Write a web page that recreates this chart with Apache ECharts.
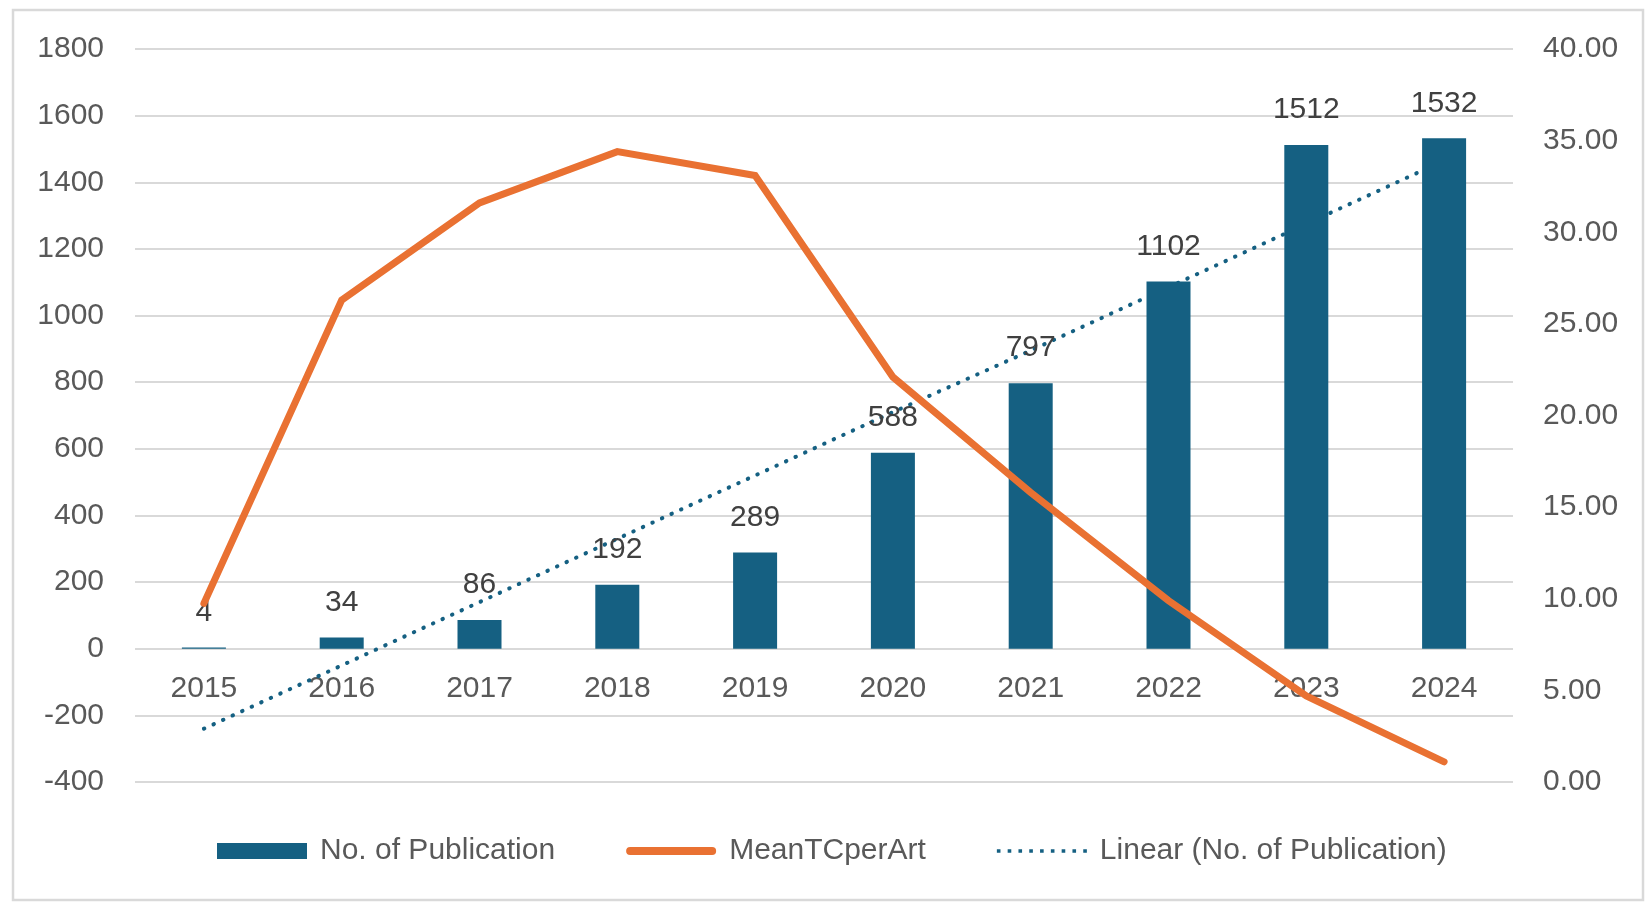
<!DOCTYPE html>
<html>
<head>
<meta charset="utf-8">
<script src="https://cdn.jsdelivr.net/npm/echarts@6/dist/echarts.min.js"></script>
<style>
  html, body { margin: 0; padding: 0; background: #fff; }
  #chart { width: 1650px; height: 905px; }
</style>
</head>
<body>
<div id="chart"></div>
<script>
// data
const years = ['2015', '2016', '2017', '2018', '2019', '2020', '2021', '2022', '2023', '2024']
const publications = [4, 34, 86, 192, 289, 588, 797, 1102, 1512, 1532]
const meanTCperArt = [9.75, 26.3, 31.6, 34.4, 33.1, 22.1, 15.8, 9.9, 4.7, 1.1]
// trendline as drawn (straight dotted line)
const linearPub = [-240, -50, 140, 330, 520, 710, 895, 1085, 1275, 1465]

const FONT = '"Liberation Sans", Arial, sans-serif'
const axisGrey = '#595959'
const gridGrey = '#d9d9d9'
const barBlue = '#156082'
const orange = '#e97132'

// legend icons (shapes only)
const orangeIcon = 'path://M4,0 L86,0 A4,4 0 0 1 86,8 L4,8 A4,4 0 0 1 4,0 Z'
let dotIcon = 'path://'
for (let i = 0; i < 9; i++) {
  const x = i * 10.75
  dotIcon += 'M' + x + ',0 L' + (x + 3.6) + ',0 L' + (x + 3.6) + ',3.6 L' + x + ',3.6 Z '
}

const chart = echarts.init(document.getElementById('chart'))

const options = {
  animation: false,
  textStyle: { fontFamily: FONT },
  graphic: [
    {
      type: 'rect',
      shape: { x: 13, y: 10, width: 1630, height: 890 },
      style: { fill: 'none', stroke: gridGrey, lineWidth: 2.5 },
      silent: true
    }
  ],
  grid: {
    left: 135,
    right: 137,
    top: 49,
    bottom: 123,
    outerBoundsMode: 'none'
  },
  legend: {
    left: 212,
    top: 831,
    itemWidth: 90,
    itemHeight: 16,
    itemGap: 71,
    textStyle: {
      fontFamily: FONT,
      fontSize: 30,
      color: axisGrey,
      padding: [0, 0, 0, 8]
    },
    data: [
      { name: 'No. of Publication', icon: 'rect', itemStyle: { color: barBlue } },
      { name: 'MeanTCperArt', icon: orangeIcon, itemStyle: { color: orange } },
      { name: 'Linear (No. of Publication)', icon: dotIcon, itemStyle: { color: barBlue } }
    ]
  },
  xAxis: {
    type: 'category',
    data: years,
    boundaryGap: true,
    axisLine: { show: false, onZero: false },
    axisTick: { show: false },
    axisLabel: {
      margin: -108,
      fontFamily: FONT,
      fontSize: 30,
      color: axisGrey
    }
  },
  yAxis: [
    {
      type: 'value',
      min: -400,
      max: 1800,
      interval: 200,
      axisLine: { show: false },
      axisTick: { show: false },
      splitLine: { show: true, lineStyle: { color: gridGrey, width: 2 } },
      axisLabel: {
        margin: 31,
        fontFamily: FONT,
        fontSize: 30,
        color: axisGrey,
        formatter: function(v) {
          return String(v)
        }
      }
    },
    {
      type: 'value',
      min: 0,
      max: 40,
      interval: 5,
      position: 'right',
      axisLine: { show: false },
      axisTick: { show: false },
      splitLine: { show: false },
      axisLabel: {
        margin: 30,
        fontFamily: FONT,
        fontSize: 30,
        color: axisGrey,
        formatter: function(v) {
          return v.toFixed(2)
        }
      }
    }
  ],
  series: [
    {
      name: 'No. of Publication',
      type: 'bar',
      yAxisIndex: 0,
      barWidth: 44,
      z: 3,
      itemStyle: { color: barBlue },
      label: {
        show: true,
        position: 'top',
        distance: 20,
        fontFamily: FONT,
        fontSize: 30,
        color: '#404040'
      },
      data: publications
    },
    {
      name: 'MeanTCperArt',
      type: 'line',
      yAxisIndex: 1,
      z: 4,
      symbol: 'none',
      lineStyle: { color: orange, width: 7, cap: 'round', join: 'miter' },
      itemStyle: { color: orange },
      data: meanTCperArt
    },
    {
      name: 'Linear (No. of Publication)',
      type: 'line',
      yAxisIndex: 0,
      z: 1,
      symbol: 'none',
      lineStyle: { color: barBlue, width: 4, type: [0.5, 10], cap: 'round' },
      itemStyle: { color: barBlue },
      data: linearPub
    }
  ]
}

chart.setOption(options)
</script>
</body>
</html>
